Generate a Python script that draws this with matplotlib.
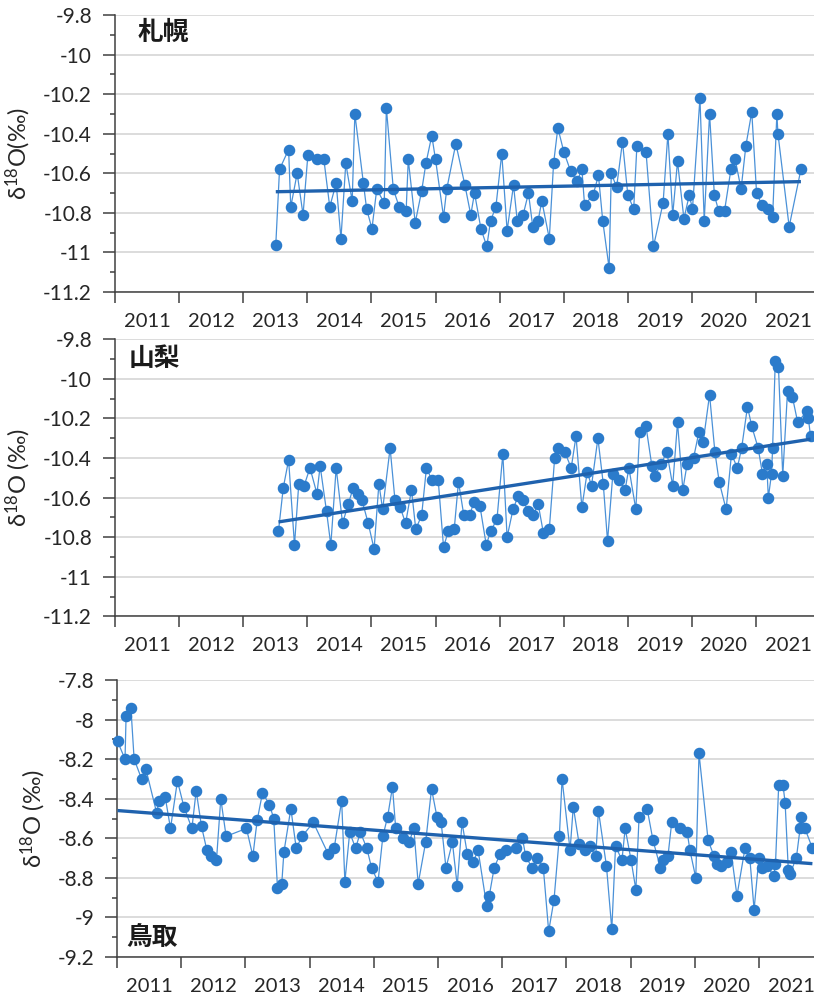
import matplotlib
matplotlib.use("Agg")
import matplotlib.pyplot as plt
import numpy as np
from matplotlib.ticker import FixedLocator, MultipleLocator, FormatStrFormatter, NullFormatter

plt.rcParams["font.family"] = ["Lato", "Noto Sans", "DejaVu Sans"]
plt.rcParams["axes.unicode_minus"] = False
plt.rcParams["mathtext.fontset"] = "custom"
plt.rcParams["mathtext.rm"] = "Lato"

# sample month, counted from January 2011, and monthly d18O of precipitation
sapporo_month = [
    30.1, 30.8, 32.5, 32.9, 34.1, 35.2, 36.1, 37.9, 39.1, 40.2,
    41.4, 42.3, 43.2, 44.4, 44.9, 46.5, 47.1, 48.1, 49.0, 50.4,
    50.8, 52.1, 53.2, 54.5, 54.9, 56.2, 57.4, 58.2, 59.3, 60.0,
    61.5, 62.1, 63.8, 65.5, 66.6, 67.3, 68.5, 69.6, 70.3, 71.3,
    72.4, 73.4, 74.6, 75.3, 76.4, 77.4, 78.2, 79.2, 79.9, 81.3,
    82.1, 82.9, 84.0, 85.3, 86.5, 87.4, 87.9, 89.5, 90.5, 91.3,
    92.5, 92.9, 93.9, 95.0, 96.0, 97.1, 97.7, 99.4, 100.8, 102.6,
    103.5, 104.4, 105.3, 106.5, 107.5, 108.1, 109.5, 110.3, 111.3, 112.2,
    113.0, 114.1, 115.3, 116.1, 117.2, 118.1, 119.2, 120.1, 121.1, 122.2,
    123.1, 123.9, 124.1, 126.2, 128.4,
]
sapporo_d18o = [
    -10.96, -10.58, -10.48, -10.77, -10.60, -10.81, -10.51, -10.53, -10.53, -10.77,
    -10.65, -10.93, -10.55, -10.74, -10.30, -10.65, -10.78, -10.88, -10.68, -10.75,
    -10.27, -10.68, -10.77, -10.79, -10.53, -10.85, -10.69, -10.55, -10.41, -10.53,
    -10.82, -10.68, -10.45, -10.66, -10.81, -10.70, -10.88, -10.97, -10.84, -10.77,
    -10.50, -10.89, -10.66, -10.84, -10.81, -10.70, -10.87, -10.84, -10.74, -10.93,
    -10.55, -10.37, -10.49, -10.59, -10.64, -10.58, -10.76, -10.71, -10.61, -10.84,
    -11.08, -10.60, -10.67, -10.44, -10.71, -10.78, -10.46, -10.49, -10.97, -10.75,
    -10.40, -10.81, -10.54, -10.83, -10.71, -10.78, -10.22, -10.84, -10.30, -10.71,
    -10.79, -10.79, -10.58, -10.53, -10.68, -10.46, -10.29, -10.70, -10.76, -10.78,
    -10.82, -10.30, -10.40, -10.87, -10.58,
]

yamanashi_month = [
    30.6, 31.5, 32.5, 33.6, 34.4, 35.4, 36.5, 37.8, 38.4, 39.6,
    40.4, 41.4, 42.6, 43.7, 44.6, 45.4, 46.2, 47.4, 48.5, 49.4,
    50.1, 51.5, 52.4, 53.4, 54.4, 55.5, 56.3, 57.4, 58.3, 59.3,
    60.5, 61.5, 62.4, 63.5, 64.3, 65.3, 66.4, 67.2, 68.3, 69.5,
    70.3, 71.5, 72.6, 73.4, 74.5, 75.5, 76.4, 77.3, 78.3, 79.2,
    80.2, 81.3, 82.3, 83.0, 84.2, 85.4, 86.3, 87.4, 88.4, 89.2,
    90.4, 91.4, 92.2, 93.2, 94.3, 95.5, 96.2, 97.5, 98.2, 99.4,
    100.5, 101.1, 102.2, 103.3, 104.4, 105.3, 106.3, 107.1, 108.3, 109.3,
    110.1, 111.3, 112.3, 113.1, 114.4, 115.4, 116.5, 117.3, 118.4, 119.2,
    120.4, 121.2, 122.0, 122.3, 122.9, 123.1, 123.6, 124.2, 125.0, 125.9,
    126.8, 127.8, 129.6, 129.8, 130.2,
]
yamanashi_d18o = [
    -10.77, -10.55, -10.41, -10.84, -10.53, -10.54, -10.45, -10.58, -10.44, -10.67,
    -10.84, -10.45, -10.73, -10.63, -10.55, -10.58, -10.61, -10.73, -10.86, -10.53,
    -10.66, -10.35, -10.61, -10.65, -10.73, -10.56, -10.76, -10.69, -10.45, -10.51,
    -10.51, -10.85, -10.77, -10.76, -10.52, -10.69, -10.69, -10.62, -10.64, -10.84,
    -10.77, -10.71, -10.38, -10.80, -10.66, -10.59, -10.61, -10.67, -10.69, -10.63,
    -10.78, -10.76, -10.40, -10.35, -10.37, -10.45, -10.29, -10.65, -10.47, -10.54,
    -10.30, -10.53, -10.82, -10.48, -10.51, -10.56, -10.45, -10.66, -10.27, -10.24,
    -10.44, -10.49, -10.43, -10.37, -10.54, -10.22, -10.56, -10.43, -10.40, -10.27,
    -10.32, -10.08, -10.37, -10.52, -10.66, -10.38, -10.45, -10.35, -10.14, -10.24,
    -10.35, -10.48, -10.43, -10.60, -10.48, -10.35, -9.91, -9.94, -10.49, -10.06,
    -10.09, -10.22, -10.16, -10.20, -10.29,
]

tottori_month = [
    0.1, 1.5, 1.7, 2.6, 3.2, 4.6, 5.4, 7.4, 7.9, 9.0,
    10.0, 11.3, 12.5, 14.0, 14.8, 15.8, 16.8, 17.6, 18.6, 19.4,
    20.4, 24.2, 25.4, 26.2, 27.2, 28.5, 29.3, 30.0, 30.8, 31.2,
    32.5, 33.5, 34.6, 36.7, 39.5, 40.6, 42.0, 42.6, 43.5, 44.6,
    45.5, 46.7, 47.6, 48.8, 49.7, 50.6, 51.5, 52.1, 53.4, 54.6,
    55.5, 56.3, 57.7, 58.8, 59.8, 60.6, 61.5, 62.7, 63.6, 64.5,
    65.5, 66.6, 67.5, 69.1, 69.6, 70.5, 71.6, 72.7, 74.5, 75.8,
    76.4, 77.6, 78.6, 79.7, 80.7, 81.7, 82.7, 83.2, 84.7, 85.3,
    86.4, 87.5, 88.4, 89.5, 90.0, 91.5, 92.5, 93.2, 94.4, 95.0,
    96.1, 97.0, 97.6, 99.1, 100.2, 101.6, 102.1, 103.0, 103.7, 105.2,
    106.6, 107.1, 108.2, 108.8, 110.5, 111.6, 112.1, 112.9, 114.0, 114.8,
    115.9, 117.4, 118.3, 119.1, 120.0, 120.6, 121.5, 122.8, 123.1, 123.7,
    124.5, 124.9, 125.5, 125.8, 127.0, 127.7, 127.8, 128.6, 130.0,
]
tottori_d18o = [
    -8.11, -8.20, -7.98, -7.94, -8.20, -8.30, -8.25, -8.47, -8.41, -8.39,
    -8.55, -8.31, -8.44, -8.55, -8.36, -8.54, -8.66, -8.69, -8.71, -8.40,
    -8.59, -8.55, -8.69, -8.51, -8.37, -8.43, -8.50, -8.85, -8.83, -8.67,
    -8.45, -8.65, -8.59, -8.52, -8.68, -8.65, -8.41, -8.82, -8.57, -8.65,
    -8.57, -8.65, -8.75, -8.82, -8.59, -8.49, -8.34, -8.55, -8.60, -8.62,
    -8.55, -8.83, -8.62, -8.35, -8.49, -8.52, -8.75, -8.62, -8.84, -8.52,
    -8.68, -8.72, -8.66, -8.94, -8.89, -8.75, -8.68, -8.66, -8.65, -8.60,
    -8.69, -8.75, -8.70, -8.75, -9.07, -8.91, -8.59, -8.30, -8.66, -8.44,
    -8.63, -8.66, -8.64, -8.69, -8.46, -8.74, -9.06, -8.64, -8.71, -8.55,
    -8.71, -8.86, -8.49, -8.45, -8.61, -8.75, -8.71, -8.69, -8.52, -8.55,
    -8.57, -8.66, -8.80, -8.17, -8.61, -8.69, -8.73, -8.74, -8.72, -8.67,
    -8.89, -8.65, -8.70, -8.96, -8.70, -8.75, -8.74, -8.79, -8.73, -8.33,
    -8.33, -8.42, -8.76, -8.78, -8.70, -8.55, -8.49, -8.55, -8.65,
]

years = list(range(2011, 2022))

MARK = "#2b7bcb"
LINE = "#4a91d8"
TREND = "#1f62ae"
AXIS = "#404040"
TEXT = "#262626"


def draw_station(ax, month, d18o, name, ylim, xmax, ylabel, label_x, name_pos, name_va):
    month = np.asarray(month)
    d18o = np.asarray(d18o)

    ax.plot(month, d18o, color=LINE, lw=0.9, zorder=3, clip_on=False)
    ax.plot(month, d18o, "o", ms=7.3, color=MARK, mec=MARK, zorder=4, clip_on=False)

    # least-squares trend over the sampled period
    slope, icpt = np.polyfit(month, d18o, 1)
    t = np.array([month.min(), month.max()])
    ax.plot(t, icpt + slope * t, color=TREND, lw=2.4, zorder=5,
            solid_capstyle="butt", clip_on=False)

    ax.set_xlim(0, xmax)
    ax.set_ylim(*ylim)

    # year boundaries as ticks, year names centred between them
    ax.xaxis.set_major_locator(FixedLocator([12 * i for i in range(len(years))]))
    ax.xaxis.set_major_formatter(NullFormatter())
    ax.xaxis.set_minor_locator(FixedLocator([12 * i + 6 for i in range(len(years))]))
    ax.set_xticklabels([str(y) for y in years], minor=True)
    ax.tick_params(axis="x", which="major", direction="out", length=8,
                   width=1.1, color=AXIS)
    ax.tick_params(axis="x", which="minor", length=0, pad=15,
                   labelsize=14.5, labelcolor=TEXT)

    ax.yaxis.set_major_locator(MultipleLocator(0.2))
    ax.yaxis.set_minor_locator(MultipleLocator(0.1))
    ax.yaxis.set_major_formatter(FormatStrFormatter("%g"))
    ax.tick_params(axis="y", which="major", direction="out", length=8.5,
                   width=1.1, color=AXIS, pad=8, labelsize=15, labelcolor=TEXT)
    ax.tick_params(axis="y", which="minor", direction="out", length=3.5,
                   width=1.1, color=AXIS)

    ax.yaxis.grid(True, which="major", color="#d9d9d9", lw=1.3)
    ax.set_axisbelow(True)

    for side in ("top", "right"):
        ax.spines[side].set_visible(False)
    for side in ("left", "bottom"):
        ax.spines[side].set_color(AXIS)
        ax.spines[side].set_linewidth(1.1)

    ax.set_ylabel(ylabel, fontsize=17, color=TEXT)
    ax.yaxis.set_label_coords(label_x, 0.5)

    ax.text(name_pos[0], name_pos[1], name, transform=ax.transAxes,
            ha="left", va=name_va, fontsize=18.5, fontweight="bold",
            family=["Noto Sans CJK JP", "DejaVu Sans"], color="#1a1a1a", zorder=6)


fig = plt.figure(figsize=(8.14, 10), dpi=100)
fig.patch.set_facecolor("white")

ax1 = fig.add_axes([115 / 814, 0.708, 699 / 814, 0.277])
ax2 = fig.add_axes([115 / 814, 0.3837, 699 / 814, 0.277])
ax3 = fig.add_axes([117 / 814, 0.043, 697 / 814, 0.277])

draw_station(ax1, sapporo_month, sapporo_d18o, "札幌", (-11.2, -9.8), 130.85,
             "δ$\\mathregular{^{18}}$O(‰)", -0.117, (0.033, 0.985), "top")
draw_station(ax2, yamanashi_month, yamanashi_d18o, "山梨", (-11.2, -9.8), 130.85,
             "δ$\\mathregular{^{18}}$O (‰)", -0.117, (0.019, 0.98), "top")
draw_station(ax3, tottori_month, tottori_d18o, "鳥取", (-9.2, -7.8), 130.3,
             "δ$\\mathregular{^{18}}$O (‰)", -0.099, (0.013, 0.02), "bottom")

fig.savefig("out.png", dpi=100, facecolor="white")
